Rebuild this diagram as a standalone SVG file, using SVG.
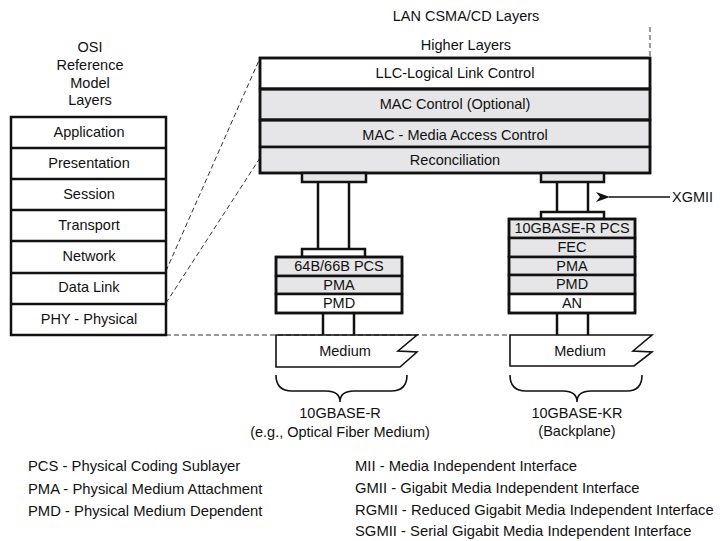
<svg xmlns="http://www.w3.org/2000/svg" width="720" height="541" viewBox="0 0 720 541">
<defs>
<style>
text{font-family:"Liberation Sans",Arial,sans-serif;font-size:14.5px;fill:#111;}
.c{text-anchor:middle;}
.box{stroke:#111;stroke-width:2.5;fill:#fff;}
.g{stroke:#111;stroke-width:2.5;fill:#e6e6e8;}
.w{stroke:#111;stroke-width:2.5;fill:#fff;}
.ln{stroke:#111;stroke-width:2.5;fill:none;}
.thin{stroke:#111;stroke-width:1.6;fill:none;}
.dash{stroke:#333;stroke-width:1;stroke-dasharray:5,3;fill:none;}
.leg{font-size:14.8px;}
</style>
<marker id="ah" markerWidth="14" markerHeight="10" refX="1" refY="5" orient="auto" markerUnits="userSpaceOnUse">
<path d="M14,0 L0,5 L14,10 L10,5 Z" fill="#111"/>
</marker>
</defs>
<rect width="720" height="541" fill="#fff"/>

<g id="connectors">
<line class="dash" x1="166" y1="271" x2="260" y2="58"/>
<line class="dash" x1="166" y1="303" x2="260" y2="158"/>
<line class="dash" x1="166" y1="335" x2="510" y2="335"/>
<line class="dash" x1="650" y1="27" x2="650" y2="58"/>
<line class="thin" x1="670" y1="197" x2="609" y2="197" marker-end="url(#ah)"/>
</g>

<g id="osi">
<text class="c" x="90" y="52">OSI</text>
<text class="c" x="90" y="70">Reference</text>
<text class="c" x="90" y="88">Model</text>
<text class="c" x="90" y="105">Layers</text>
<rect class="box" x="11" y="117" width="155" height="218"/>
<line class="ln" x1="11" y1="148" x2="166" y2="148"/>
<line class="ln" x1="11" y1="179" x2="166" y2="179"/>
<line class="ln" x1="11" y1="210" x2="166" y2="210"/>
<line class="ln" x1="11" y1="241" x2="166" y2="241"/>
<line class="ln" x1="11" y1="273" x2="166" y2="273"/>
<line class="ln" x1="11" y1="304" x2="166" y2="304"/>
<text class="c" x="89" y="137">Application</text>
<text class="c" x="89" y="168">Presentation</text>
<text class="c" x="89" y="199">Session</text>
<text class="c" x="89" y="230">Transport</text>
<text class="c" x="89" y="261">Network</text>
<text class="c" x="89" y="292">Data Link</text>
<text class="c" x="89" y="324">PHY - Physical</text>
</g>

<g id="lan">
<text class="c" x="466" y="21">LAN CSMA/CD Layers</text>
<text class="c" x="466" y="50">Higher Layers</text>
<rect class="w" x="260" y="58" width="390" height="31"/>
<rect class="g" x="260" y="89" width="390" height="31"/>
<rect class="g" x="260" y="120" width="390" height="27"/>
<rect class="g" x="260" y="147" width="390" height="26"/>
<rect class="ln" x="260" y="58" width="390" height="115"/>
<line x1="260" y1="89" x2="650" y2="89" stroke="#111" stroke-width="3"/>
<line x1="260" y1="120" x2="650" y2="120" stroke="#111" stroke-width="3"/>
<text class="c" x="455" y="78">LLC-Logical Link Control</text>
<text class="c" x="455" y="109">MAC Control (Optional)</text>
<text class="c" x="455" y="140">MAC - Media Access Control</text>
<text class="c" x="455" y="165">Reconciliation</text>
</g>

<g id="phy-r">
<rect class="g" x="302" y="173" width="64" height="9"/>
<line class="ln" x1="318" y1="182" x2="318" y2="249"/>
<line class="ln" x1="349" y1="182" x2="349" y2="249"/>
<rect class="w" x="302" y="249" width="63" height="8"/>
<rect class="g" x="276" y="257" width="126" height="19"/>
<rect class="g" x="276" y="276" width="126" height="18"/>
<rect class="w" x="276" y="294" width="126" height="19"/>
<rect class="ln" x="276" y="257" width="126" height="56" stroke-width="3"/>
<text class="c" x="339" y="271">64B/66B PCS</text>
<text class="c" x="339" y="290">PMA</text>
<text class="c" x="339" y="308">PMD</text>
<line class="ln" x1="323" y1="313" x2="323" y2="335"/>
<line class="ln" x1="354" y1="313" x2="354" y2="335"/>
</g>

<g id="phy-kr">
<rect class="g" x="541" y="173" width="63" height="9"/>
<line class="ln" x1="557" y1="182" x2="557" y2="212"/>
<line class="ln" x1="588" y1="182" x2="588" y2="212"/>
<rect class="w" x="541" y="212" width="63" height="7"/>
<rect class="g" x="509" y="219" width="126" height="19"/>
<rect class="g" x="509" y="238" width="126" height="19"/>
<rect class="g" x="509" y="257" width="126" height="18"/>
<rect class="g" x="509" y="275" width="126" height="19"/>
<rect class="w" x="509" y="294" width="126" height="19"/>
<rect class="ln" x="509" y="219" width="126" height="94" stroke-width="3"/>
<text class="c" x="572" y="233">10GBASE-R PCS</text>
<text class="c" x="572" y="252">FEC</text>
<text class="c" x="572" y="271">PMA</text>
<text class="c" x="572" y="289">PMD</text>
<text class="c" x="572" y="308">AN</text>
<line class="ln" x1="557" y1="313" x2="557" y2="335"/>
<line class="ln" x1="588" y1="313" x2="588" y2="335"/>
</g>

<g id="xgmii">
<text x="672" y="202">XGMII</text>
</g>

<g id="medium-r">
<path class="thin" d="M276,335 H417 L398,351 L417,352 L400,367 H276 Z" fill="#fff"/>
<text class="c" x="345" y="356">Medium</text>
<path class="thin" d="M276,375 Q276,391 292,391 H326 Q340,391 340,402 Q340,391 354,391 H391 Q407,391 407,375"/>
<text class="c" x="340" y="418">10GBASE-R</text>
<text class="c" x="340" y="437">(e.g., Optical Fiber Medium)</text>
</g>

<g id="medium-kr">
<path class="thin" d="M510,335 H652 L633,351 L652,352 L634,366 H510 Z" fill="#fff"/>
<text class="c" x="580" y="356">Medium</text>
<path class="thin" d="M510,375 Q510,391 526,391 H563 Q577,391 577,402 Q577,391 591,391 H627 Q642,391 642,375"/>
<text class="c" x="577" y="418">10GBASE-KR</text>
<text class="c" x="577" y="436">(Backplane)</text>
</g>

<g id="legend">
<text class="leg" x="28" y="471">PCS - Physical Coding Sublayer</text>
<text class="leg" x="28" y="494">PMA - Physical Medium Attachment</text>
<text class="leg" x="28" y="516">PMD - Physical Medium Dependent</text>
<text class="leg" x="355" y="471">MII - Media Independent Interface</text>
<text class="leg" x="355" y="493">GMII - Gigabit Media Independent Interface</text>
<text class="leg" x="355" y="515">RGMII - Reduced Gigabit Media Independent Interface</text>
<text class="leg" x="355" y="536">SGMII - Serial Gigabit Media Independent Interface</text>
</g>
</svg>
